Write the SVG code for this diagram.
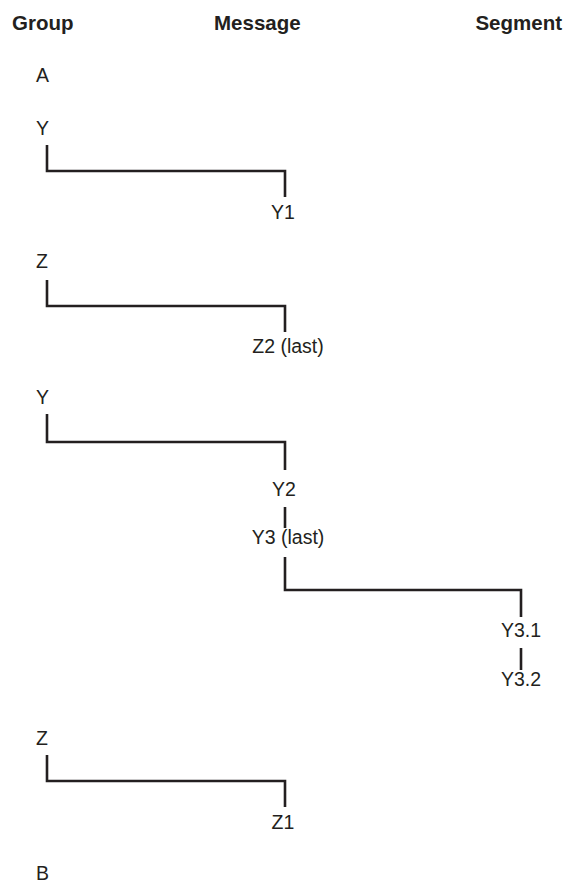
<svg xmlns="http://www.w3.org/2000/svg" width="573" height="888" viewBox="0 0 573 888">
<style>
.h{font-family:"Liberation Sans",Arial,sans-serif;font-weight:bold;font-size:20.5px;fill:#231f20}
.t{font-family:"Liberation Sans",Arial,sans-serif;font-size:19.5px;fill:#231f20}
.c{text-anchor:middle}
.ln{fill:none;stroke:#231f20;stroke-width:2.6;stroke-linejoin:miter;stroke-linecap:butt}
</style>
<rect width="573" height="888" fill="#ffffff"/>
<g id="headers">
<text class="h" x="12" y="30">Group</text>
<text class="h" x="214" y="30">Message</text>
<text class="h" x="562" y="30" text-anchor="end">Segment</text>
</g>
<g id="connectors">
<path class="ln" d="M47 145 V171 H285 V197"/>
<path class="ln" d="M47 280 V306 H285 V332"/>
<path class="ln" d="M47 414 V442 H285 V470"/>
<path class="ln" d="M285 507 V528"/>
<path class="ln" d="M285 557 V590 H521 V617"/>
<path class="ln" d="M521 648 V670"/>
<path class="ln" d="M47 755 V781 H285 V807"/>
</g>
<g id="nA"><text class="t" x="36" y="82">A</text></g>
<g id="nY1"><text class="t" x="36" y="135">Y</text></g>
<g id="nY1m"><text class="t c" x="283" y="219">Y1</text></g>
<g id="nZ1"><text class="t" x="36" y="268">Z</text></g>
<g id="nZ2m"><text class="t c" x="288" y="353">Z2 (last)</text></g>
<g id="nY2"><text class="t" x="36" y="404">Y</text></g>
<g id="nY2m"><text class="t c" x="284" y="496">Y2</text></g>
<g id="nY3m"><text class="t c" x="288" y="544">Y3 (last)</text></g>
<g id="nY31"><text class="t c" x="521" y="637">Y3.1</text></g>
<g id="nY32"><text class="t c" x="521" y="686">Y3.2</text></g>
<g id="nZ2"><text class="t" x="36" y="745">Z</text></g>
<g id="nZ1m"><text class="t c" x="283" y="829">Z1</text></g>
<g id="nB"><text class="t" x="36" y="880">B</text></g>
</svg>
